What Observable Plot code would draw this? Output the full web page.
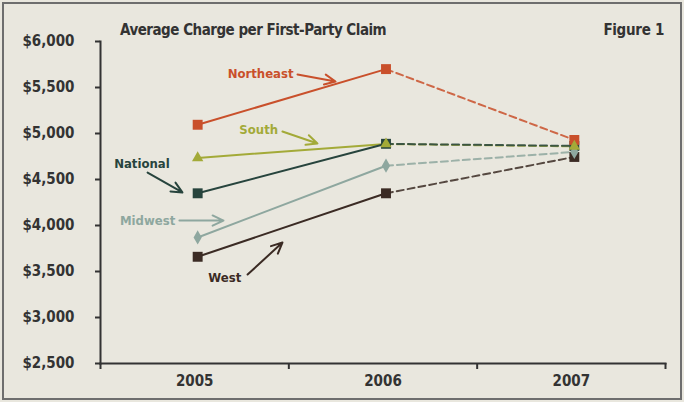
<!DOCTYPE html>
<html>
<head>
<meta charset="utf-8">
<script src="https://cdn.jsdelivr.net/npm/d3@7"></script>
<script src="https://cdn.jsdelivr.net/npm/@observablehq/plot@0.6"></script>
<style>
  html, body { margin: 0; padding: 0; background: #e9e7de; }
  #wrap { position: relative; width: 684px; height: 402px; background: #e9e7de; overflow: hidden; }
  #frame { position: absolute; left: 2px; top: 2px; width: 680px; height: 398px; box-sizing: border-box; border: 2px solid #6e6e6e; pointer-events: none; }
  .lbl { position: absolute; font-family: "Liberation Sans Narrow", "DejaVu Sans Condensed", "Roboto", sans-serif; font-weight: bold; color: #333; font-size: 15px; white-space: nowrap; }
  #title { left: 120px; top: 21px; letter-spacing: -0.5px; }
  #fig { right: 20px; top: 21px; letter-spacing: -0.3px; }
</style>
</head>
<body>
<div id="wrap">
  <div id="chart"></div>
  <div id="title" class="lbl">Average Charge per First-Party Claim</div>
  <div id="fig" class="lbl">Figure 1</div>
  <div id="frame"></div>
</div>
<script>
// ---- data ----
const years = [2005, 2006, 2007];
const regions = ["Northeast", "South", "National", "Midwest", "West"];
const northeast = [5095, 5700, 4930];
const south = [4735, 4885, 4860];
const national = [4350, 4888, 4865];
const midwest = [3870, 4650, 4800];
const west = [3660, 4350, 4745];
const yTicks = [2500, 3000, 3500, 4000, 4500, 5000, 5500, 6000];
const xTickLabels = ["2005", "2006", "2007"];
const colors = ["#c9502b", "#a3aa38", "#27443d", "#8ea79f", "#3b2b24"];
const symbols = ["square", "triangle", "square", "diamond", "square"];
const markerRadius = [5.6, 4.2, 5.6, 4.3, 5.6];

// annotation labels (data coordinates)
const annText = ["Northeast", "South", "National", "Midwest", "West"];
const annX = [2005.35, 2005.34, 2004.72, 2004.75, 2005.16];
const annY = [5652, 5043, 4674, 4054, 3435];
const arrX1 = [2005.546, 2005.466, 2004.750, 2004.919, 2005.281];
const arrY1 = [5641, 5022, 4576, 4054, 3467];
const arrX2 = [2005.748, 2005.652, 2004.935, 2005.153, 2005.466];
const arrY2 = [5565, 4891, 4360, 4054, 3815];

// ---- build table ----
const seriesValues = {Northeast: northeast, South: south, National: national, Midwest: midwest, West: west};
const drawOrder = ["South", "Midwest", "West", "National", "Northeast"];
const rows = [];
for (const r of drawOrder) years.forEach((yr, i) => rows.push({region: r, year: yr, value: seriesValues[r][i]}));
const ann = annText.map((t, i) => ({text: t, x: annX[i], y: annY[i], x1: arrX1[i], y1: arrY1[i], x2: arrX2[i], y2: arrY2[i]}));
const radiusOf = (reg) => markerRadius[regions.indexOf(reg)];

const font = '"Liberation Sans Narrow", "DejaVu Sans Condensed", Roboto, sans-serif';

const chart = Plot.plot({
  width: 684,
  height: 402,
  marginLeft: 100,
  marginRight: 19,
  marginTop: 41,
  marginBottom: 39,
  style: {background: "transparent", fontFamily: font, color: "#333"},
  x: {domain: [2004.5, 2007.5], axis: null},
  y: {domain: [2500, 6000], axis: null},
  r: {type: "identity"},
  color: {domain: regions, range: colors},
  symbol: {domain: regions, range: symbols},
  marks: [
    Plot.frame({anchor: "left", stroke: "#333", strokeWidth: 2}),
    Plot.frame({anchor: "bottom", stroke: "#333", strokeWidth: 2}),
    Plot.axisY({ticks: yTicks, tickFormat: d3.format("$,"), tickSize: 5, tickPadding: 21, fontSize: 15, fontWeight: "bold", stroke: "#333", strokeWidth: 2}),
    Plot.axisX({ticks: [2004.5, 2005.5, 2006.5, 2007.5], tickFormat: () => "", tickSize: 6, stroke: "#333", strokeWidth: 2}),
    Plot.axisX({ticks: years, tickFormat: (d, i) => xTickLabels[i], tickSize: 0, tickPadding: 12, fontSize: 15, fontWeight: "bold"}),
    Plot.line(rows.filter(d => d.year <= 2006), {x: "year", y: "value", z: "region", stroke: "region", strokeWidth: 2, dx: 3}),
    Plot.line(rows.filter(d => d.year >= 2006), {x: "year", y: "value", z: "region", stroke: "region", strokeWidth: 2, strokeDasharray: "7,4", strokeOpacity: 0.85, dx: 3}),
    Plot.dot(rows, {x: "year", y: "value", symbol: "region", fill: "region", r: (d) => radiusOf(d.region), dx: 3}),
    Plot.arrow(ann, {x1: "x1", y1: "y1", x2: "x2", y2: "y2", stroke: (d) => d.text, strokeWidth: 2, headLength: 9, headAngle: 50}),
    Plot.text(ann, {x: "x", y: "y", text: "text", fill: (d) => d.text, fontSize: 13, fontWeight: "bold"})
  ]
});
document.getElementById("chart").appendChild(chart);
</script>
</body>
</html>
